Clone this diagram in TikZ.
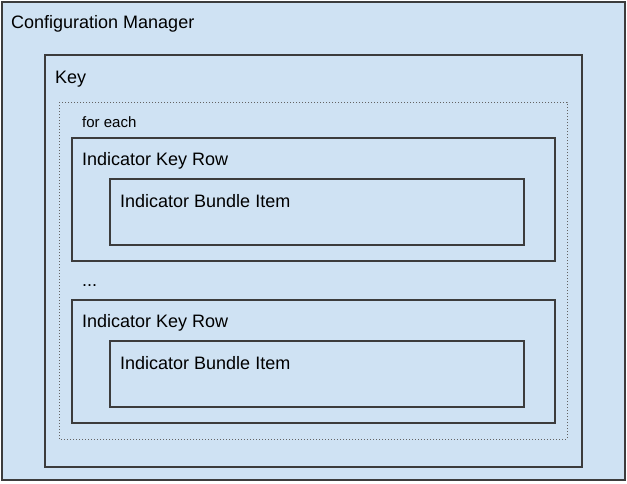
\documentclass[tikz,border=0pt]{standalone}
\usepackage{fontspec}
\setmainfont{Liberation Sans}
\definecolor{boxfill}{RGB}{207,226,243}
\definecolor{boxline}{RGB}{60,60,60}
\begin{document}
\begin{tikzpicture}[x=1pt,y=-1pt,
   box/.style={draw=boxline,line width=1.3pt},
   loopbox/.style={draw=boxline!80,line width=1pt,dotted},
   lbl/.style={anchor=base west,inner sep=0pt,font=\fontsize{18}{20}\selectfont},
   smalllbl/.style={anchor=base west,inner sep=0pt,font=\fontsize{15}{17}\selectfont}]
   \useasboundingbox (0,0) rectangle (627,483);
   % outer boxes
   \draw[box,fill=boxfill] (2,2) rectangle (625,480);
   \node[lbl] (manager) at (11,28) {Configuration Manager};
   \draw[box] (45,55) rectangle (582,467);
   \node[lbl] (key) at (55,83) {Key};
   \draw[loopbox] (59,102) rectangle (567,439);
   \node[smalllbl] (foreach) at (82,127) {for each};
   % the two rows
   \foreach \y/\n in {138/first,300/second} {
     \draw[box] (72,\y) rectangle (555,\y+123);
     \node[lbl] (row-\n) at (82,\y+27) {Indicator Key Row};
     \draw[box] (110,\y+41) rectangle (524,\y+107);
     \node[lbl] (item-\n) at (120,\y+69) {Indicator Bundle Item};
   }
   \node[lbl] (dots) at (82,286) {...};
\end{tikzpicture}
\end{document}
